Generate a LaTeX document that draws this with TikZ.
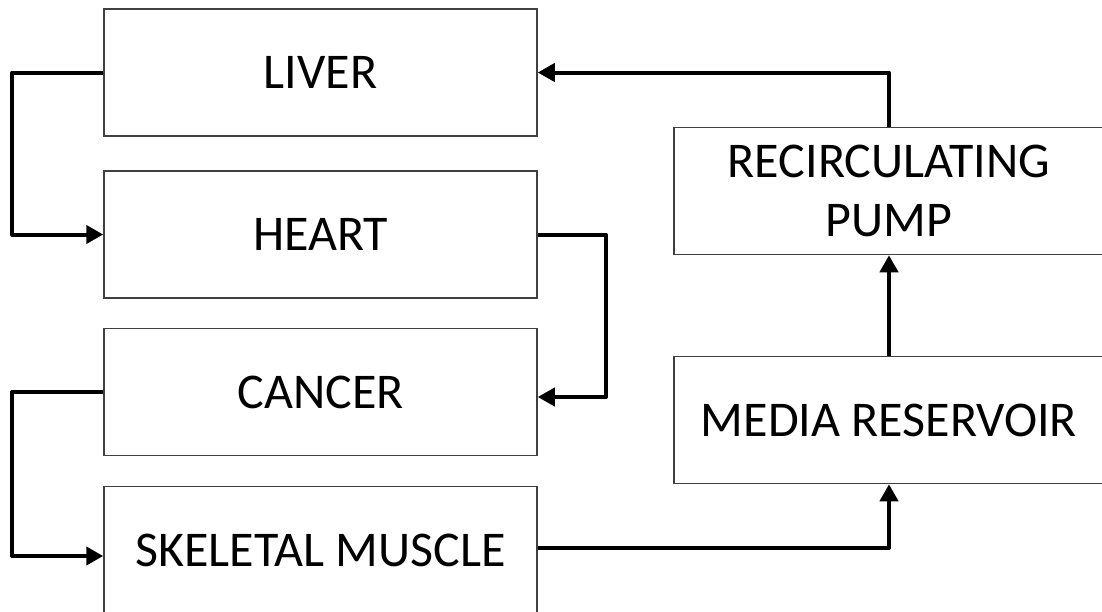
\documentclass[tikz,border=0pt]{standalone}
\usepackage{fontspec}
\setmainfont{Carlito}
\usetikzlibrary{arrows.meta}
\begin{document}
\begin{tikzpicture}[x=1pt,y=-1pt,
  organ/.style={draw=black!75, line width=1.5pt, minimum width=433pt, minimum height=127pt,
    inner sep=0pt, align=center, font=\fontsize{50}{59}\selectfont},
  flow/.style={line width=4pt, line join=round,
    -{Triangle[length=17pt,width=18pt]}}]
  \useasboundingbox (0,0) rectangle (1102,611);
  \clip (0,0) rectangle (1102,611);
  % left column of organ chambers
  \node[organ] (liver)  at (320.5,72.5)  {LIVER};
  \node[organ] (heart)  at (320.5,234.5) {HEART};
  \node[organ] (cancer) at (320.5,392)   {CANCER};
  \node[organ] (muscle) at (320.5,550)   {SKELETAL MUSCLE};
  % right column: pump and reservoir
  \node[organ, minimum width=430pt] (pump) at (889,191) {RECIRCULATING\\PUMP};
  \node[organ, minimum width=430pt] (reservoir) at (889,420) {MEDIA RESERVOIR};
  % flow path
  \draw[flow] (liver.west) -- ++(-91,0) |- (heart.west);
  \draw[flow] (heart.east) -- ++(68,0) |- ([yshift=-5pt]cancer.east);
  \draw[flow] (cancer.west) -- ++(-91,0) |- ([yshift=-6pt]muscle.west);
  \draw[flow] ([yshift=2pt]muscle.east) -| (reservoir.south);
  \draw[flow] (reservoir.north) -- (pump.south);
  \draw[flow] (pump.north) |- (liver.east);
\end{tikzpicture}
\end{document}
